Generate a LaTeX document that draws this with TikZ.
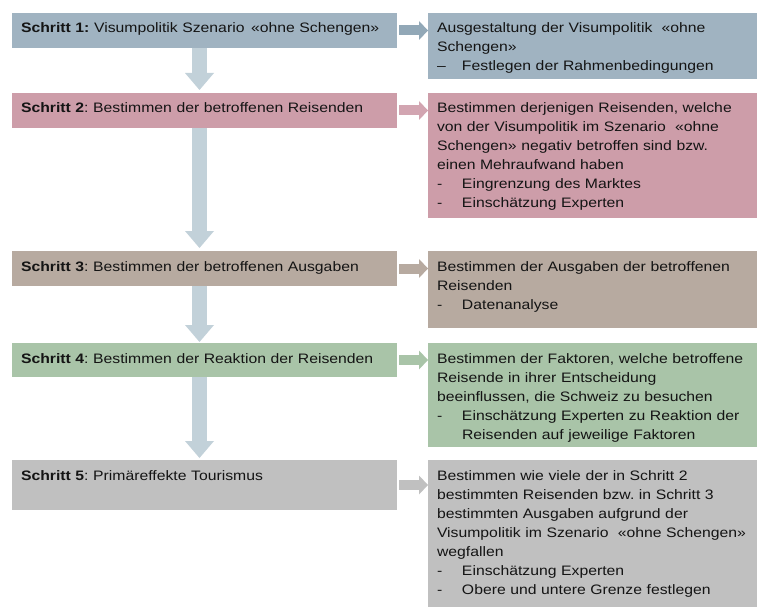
\documentclass[tikz,border=0pt]{standalone}
\usepackage{fontspec}
\setmainfont{Liberation Sans}[FakeStretch=1.15]
\usetikzlibrary{arrows.meta,calc}
\definecolor{cA}{RGB}{160,179,193}
\definecolor{cAa}{RGB}{146,168,183}
\definecolor{cB}{RGB}{205,157,169}
\definecolor{cBa}{RGB}{210,165,177}
\definecolor{cC}{RGB}{183,170,160}
\definecolor{cD}{RGB}{169,196,168}
\definecolor{cE}{RGB}{192,192,192}
\definecolor{cDown}{RGB}{194,209,217}
\definecolor{txtc}{RGB}{20,20,20}
\newcommand\myfont{\fontsize{13.7pt}{19pt}\selectfont\frenchspacing}
\newcommand\itm[1]{\makebox[25pt][l]{-}#1}
\newcommand\itmd[1]{\makebox[25pt][l]{–}#1}
\begin{document}
\begin{tikzpicture}[x=1pt,y=-1pt,
  lbox/.style={inner sep=0pt, outer sep=0pt, anchor=north west, minimum width=385pt},
  rbox/.style={inner sep=0pt, outer sep=0pt, anchor=north west, minimum width=329pt},
  txt/.style={inner sep=0pt, outer sep=0pt, anchor=north west, text width=420pt, align=left, font=\myfont, text=txtc},
  rarr/.style={line width=10pt, -{Triangle[width=19pt,length=9pt,line width=0pt]}},
  darr/.style={line width=15pt, draw=cDown, -{Triangle[width=29pt,length=17pt,line width=0pt]}}]
\useasboundingbox (0,0) rectangle (757,607);
% left boxes
\node[lbox, fill=cA, minimum height=35pt] (s1) at (12,13) {};
\node[lbox, fill=cB, minimum height=35pt] (s2) at (12,93) {};
\node[lbox, fill=cC, minimum height=35pt] (s3) at (12,251) {};
\node[lbox, fill=cD, minimum height=34pt] (s4) at (12,343) {};
\node[lbox, fill=cE, minimum height=50pt] (s5) at (12,460) {};
% right boxes
\node[rbox, fill=cA, minimum height=66pt] (r1) at (428,13) {};
\node[rbox, fill=cB, minimum height=125pt] (r2) at (428,93) {};
\node[rbox, fill=cC, minimum height=77pt] (r3) at (428,251) {};
\node[rbox, fill=cD, minimum height=104pt] (r4) at (428,343) {};
\node[rbox, fill=cE, minimum height=147pt] (r5) at (428,460) {};
% left texts
\node[txt] (s1t) at (21,19.7) {\strut\textbf{Schritt 1:} Visumpolitik Szenario \hspace{2pt}«ohne Schengen»};
\node[txt] (s2t) at (21,99.7) {\strut\textbf{Schritt 2}: Bestimmen der betroffenen Reisenden};
\node[txt] (s3t) at (21,257.7) {\strut\textbf{Schritt 3}: Bestimmen der betroffenen Ausgaben};
\node[txt] (s4t) at (21,349.7) {\strut\textbf{Schritt 4}: Bestimmen der Reaktion der Reisenden};
\node[txt] (s5t) at (21,466.7) {\strut\textbf{Schritt 5}: Primäreffekte Tourismus};
% right texts
\node[txt] (r1t) at (437,19.7) {\strut Ausgestaltung der Visumpolitik\ \ «ohne\\Schengen»\\\itmd{Festlegen der Rahmenbedingungen}};
\node[txt] (r2t) at (437,99.7) {\strut Bestimmen derjenigen Reisenden, welche\\von der Visumpolitik im Szenario\ \ «ohne\\Schengen» negativ betroffen sind bzw.\\einen Mehraufwand haben\\\itm{Eingrenzung des Marktes}\\\itm{Einschätzung Experten}};
\node[txt] (r3t) at (437,257.7) {\strut Bestimmen der Ausgaben der betroffenen\\Reisenden\\\itm{Datenanalyse}};
\node[txt] (r4t) at (437,349.7) {\strut Bestimmen der Faktoren, welche betroffene\\Reisende in ihrer Entscheidung\\beeinflussen, die Schweiz zu besuchen\\\itm{Einschätzung Experten zu Reaktion der}\\\hspace*{25pt}Reisenden auf jeweilige Faktoren};
\node[txt] (r5t) at (437,466.7) {\strut Bestimmen wie viele der in Schritt 2\\bestimmten Reisenden bzw. in Schritt 3\\bestimmten Ausgaben aufgrund der\\Visumpolitik im Szenario\ \ «ohne Schengen»\\wegfallen\\\itm{Einschätzung Experten}\\\itm{Obere und untere Grenze festlegen}};
% right arrows
\draw[rarr, draw=cAa] ($(s1.east)+(2,0)$) -- (s1.east -| r1.west);
\draw[rarr, draw=cBa] ($(s2.east)+(2,0)$) -- (s2.east -| r2.west);
\draw[rarr, draw=cC] ($(s3.east)+(2,0)$) -- (s3.east -| r3.west);
\draw[rarr, draw=cD] ($(s4.east)+(2,0)$) -- (s4.east -| r4.west);
\draw[rarr, draw=cE] ($(s5.east)+(2,0)$) -- (s5.east -| r5.west);
% down arrows
\coordinate (ax) at (199.5,0);
\draw[darr] (s1.south -| ax) -- ($(s2.north -| ax)+(0,-3)$);
\draw[darr] (s2.south -| ax) -- ($(s3.north -| ax)+(0,-3)$);
\draw[darr] (s3.south -| ax) -- ($(s4.north -| ax)+(0,-1)$);
\draw[darr] (s4.south -| ax) -- ($(s5.north -| ax)+(0,-2)$);
\end{tikzpicture}
\end{document}
